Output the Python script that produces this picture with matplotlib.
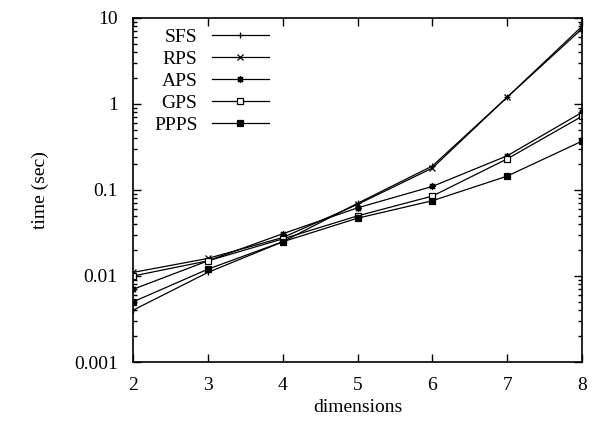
import matplotlib
matplotlib.use("Agg")
import matplotlib.pyplot as plt
from matplotlib.ticker import LogLocator, FixedLocator, NullFormatter

plt.rcParams['font.family'] = ['Liberation Serif', 'DejaVu Serif']
plt.rcParams['font.size'] = 14

dims = [2, 3, 4, 5, 6, 7, 8]
sfs = [0.004, 0.011, 0.025, 0.070, 0.19, 1.2, 7.5]
rps = [0.011, 0.016, 0.028, 0.068, 0.18, 1.2, 8.0]
aps = [0.007, 0.015, 0.031, 0.062, 0.11, 0.25, 0.80]
gps = [0.010, 0.015, 0.027, 0.050, 0.085, 0.23, 0.72]
ppps = [0.005, 0.012, 0.025, 0.047, 0.075, 0.145, 0.37]

fig = plt.figure(figsize=(5.97, 4.23), dpi=100)
ax = fig.add_axes([0.2228, 0.1442, 0.7522, 0.8133])

lw = 0.9
ax.plot(dims, sfs, color='black', lw=lw, marker='+', ms=5, mew=0.9, label='SFS')
ax.plot(dims, rps, color='black', lw=lw, marker='x', ms=4.5, mew=0.9, label='RPS')
ax.plot(dims, aps, color='black', lw=lw, marker=(8, 2, 0), ms=5, mew=0.9, label='APS')
ax.plot(dims, gps, color='black', lw=lw, marker='s', ms=4.5, mew=0.9,
        mfc='white', label='GPS')
ax.plot(dims, ppps, color='black', lw=lw, marker='s', ms=5, mew=0.9,
        mfc='black', label='PPPS')

ax.set_yscale('log')
ax.set_xlim(2, 8)
ax.set_ylim(0.001, 10)
ax.xaxis.set_major_locator(FixedLocator(dims))
ax.yaxis.set_major_locator(FixedLocator([0.001, 0.01, 0.1, 1, 10]))
ax.set_yticklabels(['0.001', '0.01', '0.1', '1', '10'])
ax.yaxis.set_minor_locator(LogLocator(base=10, subs=range(2, 10)))
ax.yaxis.set_minor_formatter(NullFormatter())

ax.tick_params(which='both', direction='in', top=True, right=True, width=1)
ax.tick_params(which='major', length=6)
ax.tick_params(which='minor', length=3)
ax.tick_params(axis='x', pad=11)
ax.tick_params(axis='y', pad=11)
for s in ax.spines.values():
    s.set_linewidth(1.2)

ax.set_xlabel('dimensions', va='center')
ax.set_ylabel('time (sec)', va='center')
ax.xaxis.set_label_coords(0.5, -0.131)
ax.yaxis.set_label_coords(-0.207, 0.5)

ax.legend(loc='upper left', frameon=False, markerfirst=False,
          handlelength=2.95, handletextpad=0.72, labelspacing=0.23,
          borderpad=0.0, borderaxespad=0.0, bbox_to_anchor=(0.047, 0.971))

fig.savefig('out.png', dpi=100)
